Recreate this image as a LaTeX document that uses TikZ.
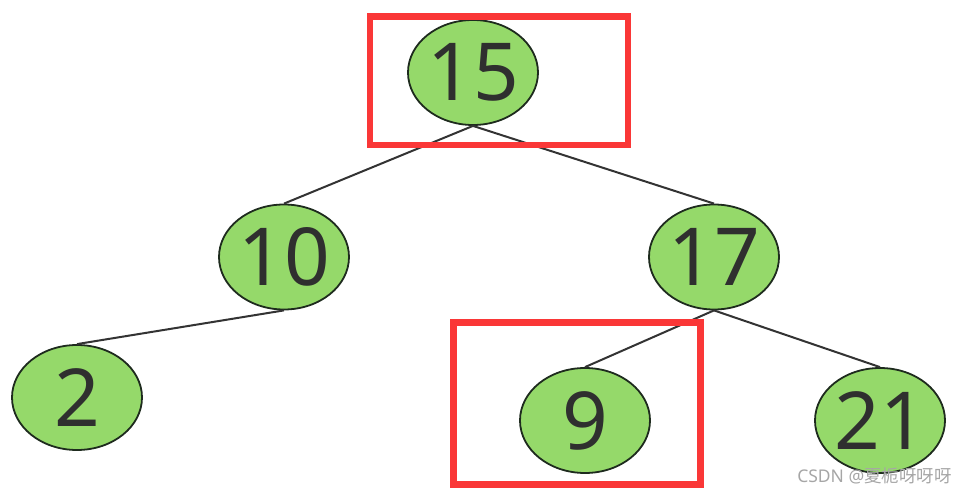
\documentclass[tikz,border=0pt]{standalone}
\usepackage{fontspec}
\setmainfont{Noto Sans}
\newfontfamily\cjk{Noto Sans CJK SC}
\usetikzlibrary{shapes.geometric}
\definecolor{nodefill}{HTML}{95D96A}
\definecolor{nodeline}{HTML}{1E2B1E}
\definecolor{txt}{HTML}{2F2F2F}
\definecolor{edge}{HTML}{333333}
\definecolor{boxred}{HTML}{FA3737}
\begin{document}
\begin{tikzpicture}[x=1pt,y=-1pt,
  treenode/.style={ellipse, draw=nodeline, line width=1.8pt, fill=nodefill,
    minimum width=130pt, minimum height=105pt, inner sep=0pt,
    text=txt, font=\fontsize{80}{80}\selectfont},
  link/.style={draw=edge, line width=2pt},
  redbox/.style={draw=boxred, line width=6.5pt}]
\useasboundingbox (0,0) rectangle (967,494);
\node[treenode] (n15) at (473,72.5) {15};
\node[treenode] (n10) at (284,257) {10};
\node[treenode] (n17) at (714,257) {17};
\node[treenode] (n2) at (77,397.5) {2};
\node[treenode] (n9) at (585,420.5) {9};
\node[treenode] (n21) at (880,420.5) {21};
\draw[link] (n15.south) -- (n10.north);
\draw[link] (n15.south) -- (n17.north);
\draw[link] (n10.south) -- (n2.north);
\draw[link] (n17.south) -- (n9.north);
\draw[link] (n17.south) -- (n21.north);
\node[redbox, minimum width=258pt, minimum height=128.5pt, inner sep=0pt] (box1) at (499,80.75) {};
\node[redbox, minimum width=247pt, minimum height=162pt, inner sep=0pt] (box2) at (577,403.5) {};
\node[text=gray!70, font=\fontsize{17.5}{17.5}\selectfont, anchor=east, inner sep=0pt] (wm) at (952,476) {CSDN @{\cjk 夏栀呀呀呀}};
\end{tikzpicture}
\end{document}
